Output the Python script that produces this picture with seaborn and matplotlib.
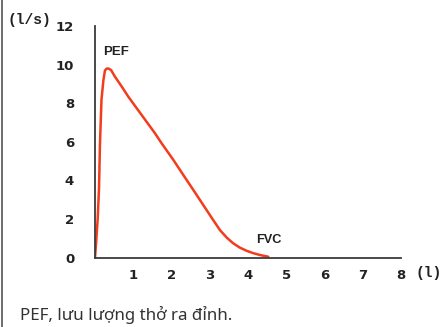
import matplotlib
matplotlib.use("Agg")
import matplotlib.pyplot as plt
import seaborn as sns
import pandas as pd
from matplotlib.lines import Line2D

# Data: volume (l) vs flow (l/s)
volume = [0, 0.03, 0.07, 0.105, 0.13, 0.17, 0.22, 0.26, 0.30, 0.35, 0.42,
          0.52, 0.70, 0.87, 1.22, 1.57, 1.74, 2.05, 2.31, 2.57, 2.83, 3.09,
          3.27, 3.45, 3.61, 3.78, 3.96, 4.13, 4.31, 4.53]
flow = [0, 0.8, 2.0, 3.6, 5.9, 8.2, 9.2, 9.69, 9.79, 9.8, 9.72,
        9.38, 8.86, 8.34, 7.39, 6.44, 5.93, 5.06, 4.28, 3.51, 2.73, 1.95,
        1.42, 1.03, 0.75, 0.53, 0.36, 0.24, 0.14, 0.05]
x_ticks = [1, 2, 3, 4, 5, 6, 7, 8]
y_ticks = [0, 2, 4, 6, 8, 10, 12]
caption = "PEF, lưu lượng thở ra đỉnh."

df = pd.DataFrame({"volume": volume, "flow": flow})

sns.set_theme(style="white")
plt.rcParams['font.family'] = ['DejaVu Sans']

fig = plt.figure(figsize=(4.41, 3.27), dpi=100)
ax = fig.add_axes([95/441, 1-257.7/327, (401-95)/441, (257.7-26)/327])

sns.lineplot(data=df, x="volume", y="flow", ax=ax, color="#f23c1c",
             linewidth=1.8, sort=False)
ax.lines[0].set_solid_joinstyle("round")
ax.lines[0].set_solid_capstyle("round")

ax.set_xlim(0, 8)
ax.set_ylim(0, 12)
ax.set_xticks(x_ticks)
ax.set_yticks(y_ticks)
ax.set_xlabel("")
ax.set_ylabel("")
for s in ["top", "right"]:
    ax.spines[s].set_visible(False)
for s in ["left", "bottom"]:
    ax.spines[s].set_color("#3a3a3a")
    ax.spines[s].set_linewidth(1.3)
ax.tick_params(axis="both", which="both", direction="out", length=4,
               width=1.1, color="#3a3a3a", labelcolor="#222222")
ax.tick_params(axis="y", pad=11)
ax.tick_params(axis="x", pad=4)
for lab in ax.get_xticklabels() + ax.get_yticklabels():
    lab.set_fontfamily("DejaVu Sans")
    lab.set_fontweight("bold")
    lab.set_fontsize(9.5)

ax.text(0.2, 10.35, "PEF", fontsize=9.5, fontweight="bold", color="#222222",
        family="Liberation Sans", ha="left", va="bottom")
ax.text(4.2, 0.62, "FVC", fontsize=9.2, fontweight="bold", color="#222222",
        family="Liberation Sans", ha="left", va="bottom")

fig.text(8/441, 1-13/327, "(l/s)", family="Liberation Mono", fontweight="bold",
         fontsize=10.5, color="#222222", ha="left", va="top")
fig.text(415/441, 1-273/327, "(l)", family="Liberation Mono", fontweight="bold",
         fontsize=10.5, color="#222222", ha="left", va="center")

fig.text(20/441, 1-320/327, caption, family="Noto Sans", fontsize=12.2,
         color="#333333", ha="left", va="baseline")

fig.add_artist(Line2D([2/441, 2/441], [0, 1], transform=fig.transFigure,
                      color="#555555", linewidth=1.2))

fig.savefig("out.png", dpi=100)
